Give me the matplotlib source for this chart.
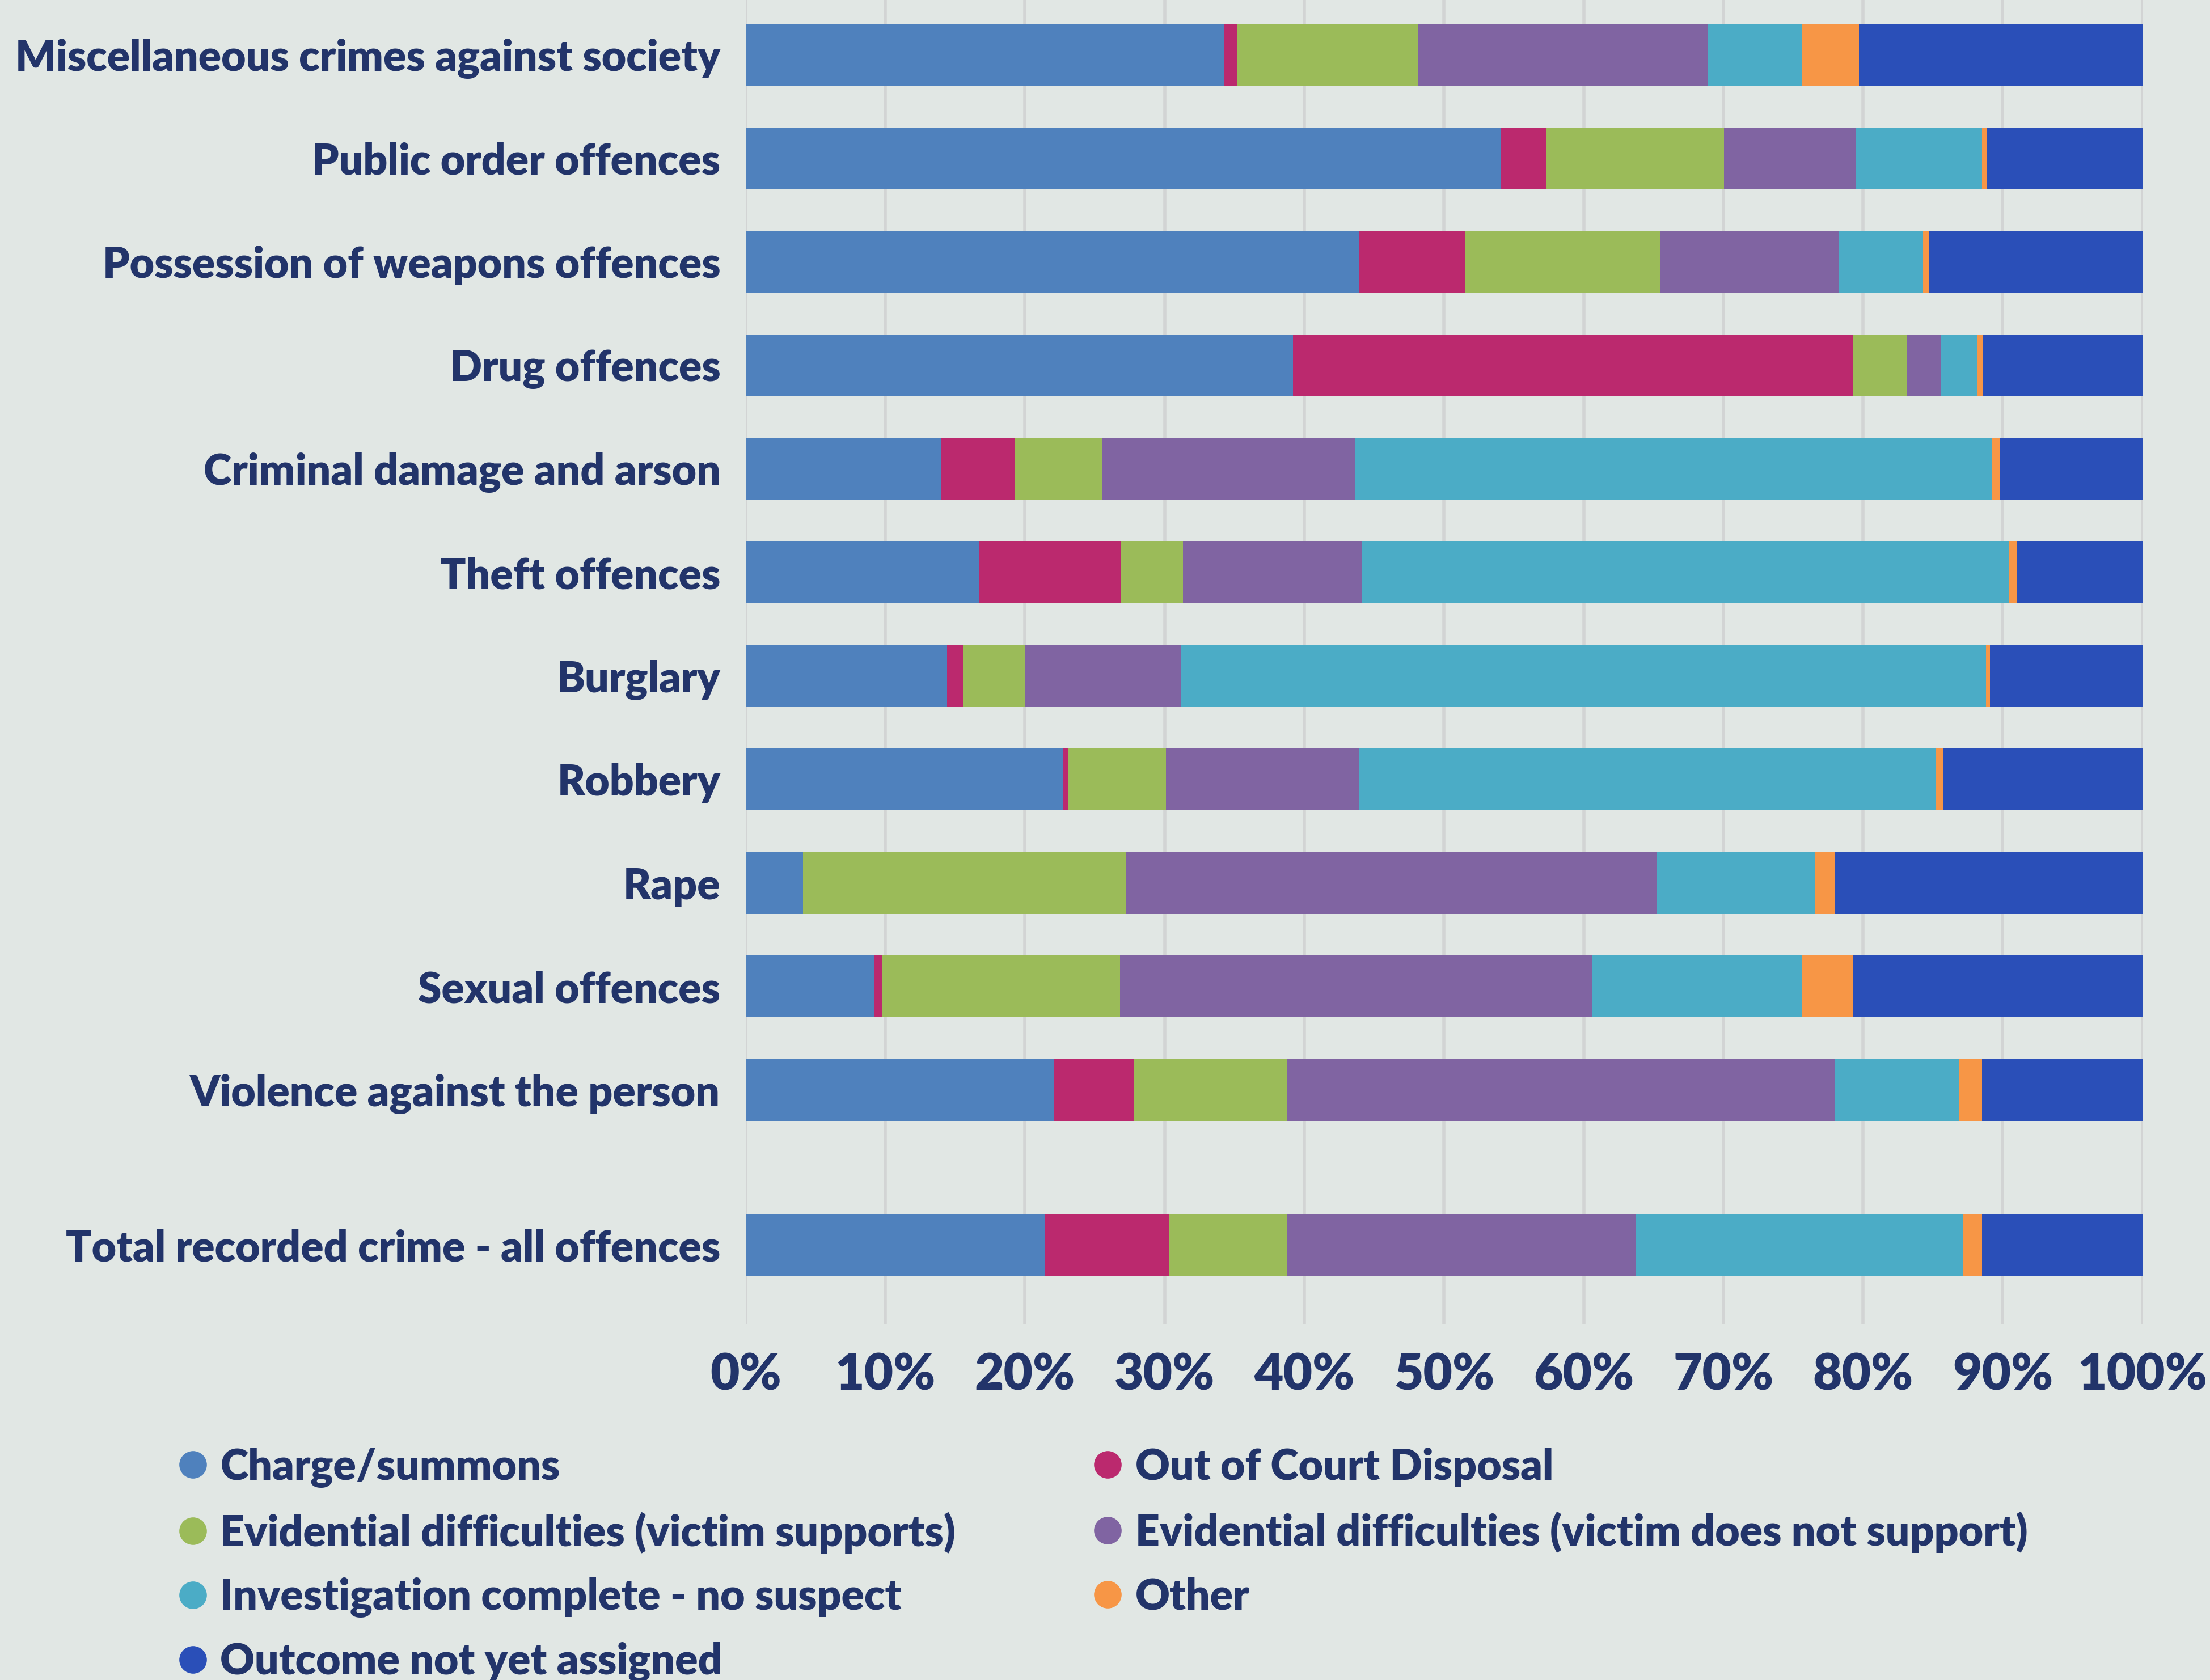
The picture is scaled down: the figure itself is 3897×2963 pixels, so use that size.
import numpy as np
import matplotlib.pyplot as plt
from matplotlib.lines import Line2D

categories = [
    "Miscellaneous crimes against society",
    "Public order offences",
    "Possession of weapons offences",
    "Drug offences",
    "Criminal damage and arson",
    "Theft offences",
    "Burglary",
    "Robbery",
    "Rape",
    "Sexual offences",
    "Violence against the person",
    "Total recorded crime - all offences",
]
ypos = [0, 1, 2, 3, 4, 5, 6, 7, 8, 9, 10, 11.5]

outcomes = [
    "Charge/summons",
    "Out of Court Disposal",
    "Evidential difficulties (victim supports)",
    "Evidential difficulties (victim does not support)",
    "Investigation complete - no suspect",
    "Other",
    "Outcome not yet assigned",
]
colors = ["#4f81bd", "#bb296e", "#9bbb59", "#8064a2", "#4bacc6", "#f79646", "#2a4fb8"]

# percentages per category, in outcome order
charge = [34.25, 54.1, 43.9, 39.2, 14.0, 16.75, 14.4, 22.7, 4.1, 9.2, 22.1, 21.4]
ocd = [0.95, 3.2, 7.6, 40.1, 5.25, 10.1, 1.15, 0.4, 0.0, 0.55, 5.7, 8.95]
evid_sup = [12.9, 12.75, 14.0, 3.8, 6.25, 4.45, 4.45, 7.0, 23.15, 17.05, 11.0, 8.45]
evid_not = [20.8, 9.45, 12.8, 2.5, 18.1, 12.8, 11.2, 13.8, 37.95, 33.8, 39.2, 24.9]
no_suspect = [6.7, 9.0, 6.0, 2.6, 45.6, 46.35, 57.6, 41.3, 11.4, 15.0, 8.9, 23.45]
other = [4.1, 0.4, 0.4, 0.4, 0.6, 0.6, 0.3, 0.5, 1.4, 3.7, 1.6, 1.35]
not_assigned = [20.3, 11.1, 15.3, 11.4, 10.2, 8.95, 10.9, 14.3, 22.0, 20.7, 11.5, 11.5]

series = [charge, ocd, evid_sup, evid_not, no_suspect, other, not_assigned]

bg = "#e1e7e4"
navy = "#22346a"
plt.rcParams["font.family"] = ["Lato", "DejaVu Sans"]

fig = plt.figure(figsize=(38.97, 29.63), dpi=100, facecolor=bg)
ax = fig.add_axes([0.3374, 0.212, 0.632, 0.788])
ax.set_facecolor(bg)

left = np.zeros(len(categories))
for vals, c, name in zip(series, colors, outcomes):
    vals = np.array(vals) / 100.0
    ax.barh(ypos, vals, left=left, height=0.6, color=c, label=name, zorder=3)
    left += vals

ax.set_xlim(0, 1)
ax.set_ylim(12.26, -0.53)
ax.set_xticks(np.arange(0, 1.01, 0.1))
ax.set_xticklabels([f"{int(round(t * 100))}%" for t in np.arange(0, 1.01, 0.1)])
ax.set_yticks(ypos)
ax.set_yticklabels(categories)
ax.tick_params(axis="y", length=0, pad=32, labelsize=54, labelcolor=navy)
ax.tick_params(axis="x", length=0, pad=36, labelsize=64, labelcolor=navy)
for lab in ax.get_xticklabels() + ax.get_yticklabels():
    lab.set_fontweight("heavy")
ax.grid(axis="x", color="#d2d4d4", linewidth=4, zorder=0)
ax.grid(axis="y", visible=False)
for s in ax.spines.values():
    s.set_visible(False)

handles = [Line2D([], [], marker="o", ls="", color=c, markersize=34) for c in colors]
order = [0, 2, 4, 6, 1, 3, 5]
leg = fig.legend([handles[i] for i in order], [outcomes[i] for i in order],
                 loc="upper left", bbox_to_anchor=(0.0814, 0.1385), ncol=2,
                 frameon=False, fontsize=54, handlelength=0.6, handletextpad=0.35,
                 labelspacing=0.57, columnspacing=3.27, borderpad=0, borderaxespad=0)
for t in leg.get_texts():
    t.set_color(navy)
    t.set_fontweight("heavy")

fig.savefig("out.png", dpi=100, facecolor=bg)
